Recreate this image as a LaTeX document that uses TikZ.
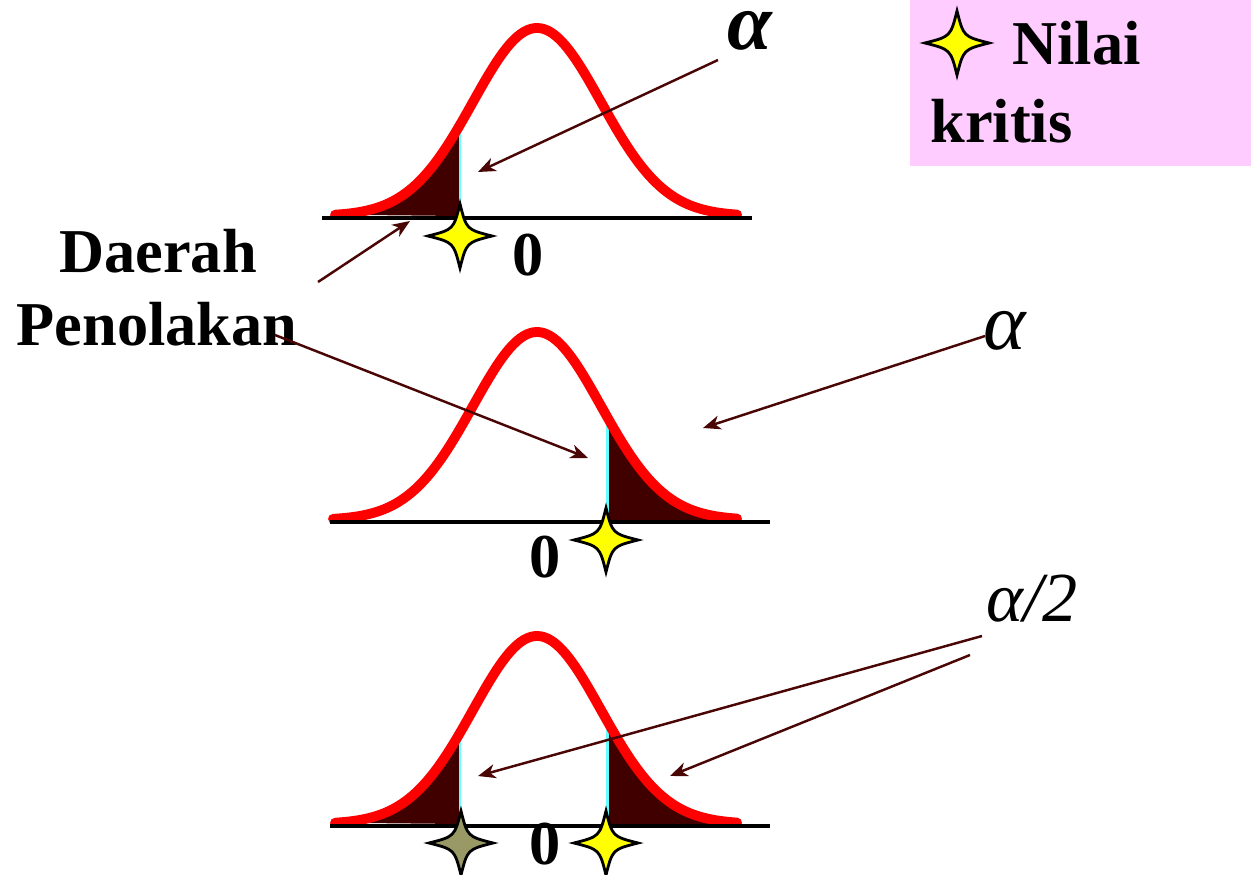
\documentclass[tikz,border=0pt]{standalone}
\usepackage{fontspec}
\setmainfont{Liberation Serif}
\usetikzlibrary{arrows.meta}
\definecolor{shade}{HTML}{400000}
\definecolor{arrcol}{HTML}{4A0505}
\definecolor{cyanl}{HTML}{66FFFF}
\definecolor{pinkbg}{HTML}{FFCCFF}
\definecolor{stary}{HTML}{FFFF00}
\definecolor{staro}{HTML}{999966}
\tikzset{
  curve/.style={draw=red, line width=5.6pt, line cap=round, line join=round},
  axisline/.style={draw=black, line width=2.4pt},
  critline/.style={draw=cyanl, line width=1.7pt},
  tail/.style={fill=shade},
  arr/.style={draw=arrcol, line width=1.4pt, -{Stealth[length=10pt,width=8pt,inset=3pt]}},
  lbl/.style={inner sep=0pt, anchor=base, font=\fontsize{35.5}{42}\selectfont\bfseries},
  greek/.style={inner sep=0pt, anchor=base, text height=0.6em, text depth=0pt},
  critstar/.pic={
    \path[pic actions, draw=black, line width=1.6pt, line join=miter]
      (0,-32) .. controls (6.5,-6.5) .. (32,0) .. controls (6.5,6.5) .. (0,32)
      .. controls (-6.5,6.5) .. (-32,0) .. controls (-6.5,-6.5) .. (0,-32) -- cycle;
  }
}
\begin{document}
\begin{tikzpicture}[x=0.02cm, y=-0.02cm,
  declare function={g(\x)=188*exp(-(((\x-537)/64)^2)/2);}]
\useasboundingbox (0,0) rectangle (1251,875);

% legend box
\fill[pinkbg] (910,0) rectangle (1251,166);
\pic[fill=stary] at (957,43) {critstar};
\node[lbl, anchor=base west] (nilai) at (1012,65) {Nilai};
\node[lbl, anchor=base west] (kritis) at (930,143) {kritis};

% ---------- curve 1 (left tail) ----------
\fill[tail] plot[domain=335:460, samples=60] (\x,{216-g(\x)}) -- (460,216) -- cycle;
\draw[critline] (460,{216-g(460)}) -- (460,216);
\draw[curve] plot[domain=335:737, samples=120] (\x,{216-g(\x)});
\draw[axisline] (322,218) -- (752,218);
\pic[fill=stary] at (460,236) {critstar};
\node[lbl] (zero1) at (528,275) {0};

% ---------- curve 2 (right tail) ----------
\fill[tail] plot[domain=607:737, samples=60] (\x,{520-g(\x)}) -- (737,520) -- (607,520) -- cycle;
\draw[critline] (607,{520-g(607)}) -- (607,520);
\draw[curve] plot[domain=333:737, samples=120] (\x,{520-g(\x)});
\draw[axisline] (330,522) -- (770,522);
\pic[fill=stary] at (606,540) {critstar};
\node[lbl] (zero2) at (545,577) {0};

% ---------- curve 3 (two tails) ----------
\fill[tail] plot[domain=335:460, samples=60] (\x,{824-g(\x)}) -- (460,824) -- cycle;
\fill[tail] plot[domain=607:737, samples=60] (\x,{824-g(\x)}) -- (737,824) -- (607,824) -- cycle;
\draw[critline] (460,{824-g(460)}) -- (460,824);
\draw[critline] (607,{824-g(607)}) -- (607,824);
\draw[curve] plot[domain=335:737, samples=120] (\x,{824-g(\x)});
\draw[axisline] (330,826) -- (770,826);
\pic[fill=staro] at (461,843) {critstar};
\pic[fill=stary] at (606,843) {critstar};
\node[lbl] (zero3) at (545,864) {0};

% ---------- labels ----------
\node[lbl] (daerah) at (158,272) {Daerah};
\node[lbl] (penolakan) at (157,345) {Penolakan};
\node[greek, font=\fontsize{46}{50}\selectfont\bfseries\itshape] (alpha1) at (750,50) {α};
\node[greek, font=\fontsize{46}{50}\selectfont\itshape] (alpha2) at (1005,349) {α};
\node[greek, font=\fontsize{40}{46}\selectfont\itshape] (alpha3) at (1032,621) {α/2};

% ---------- arrows ----------
\coordinate (a1s) at (718,60);   \coordinate (a1e) at (478,172);
\coordinate (a2s) at (318,282);  \coordinate (a2e) at (410,221);
\coordinate (a3s) at (275,335);  \coordinate (a3e) at (588,458);
\coordinate (a4s) at (985,336);  \coordinate (a4e) at (703,428);
\coordinate (a5s) at (982,636);  \coordinate (a5e) at (478,776);
\coordinate (a6s) at (970,655);  \coordinate (a6e) at (670,776);
\draw[arr] (a1s) -- (a1e);
\draw[arr] (a2s) -- (a2e);
\draw[arr] (a3s) -- (a3e);
\draw[arr] (a4s) -- (a4e);
\draw[arr] (a5s) -- (a5e);
\draw[arr] (a6s) -- (a6e);
\end{tikzpicture}
\end{document}
